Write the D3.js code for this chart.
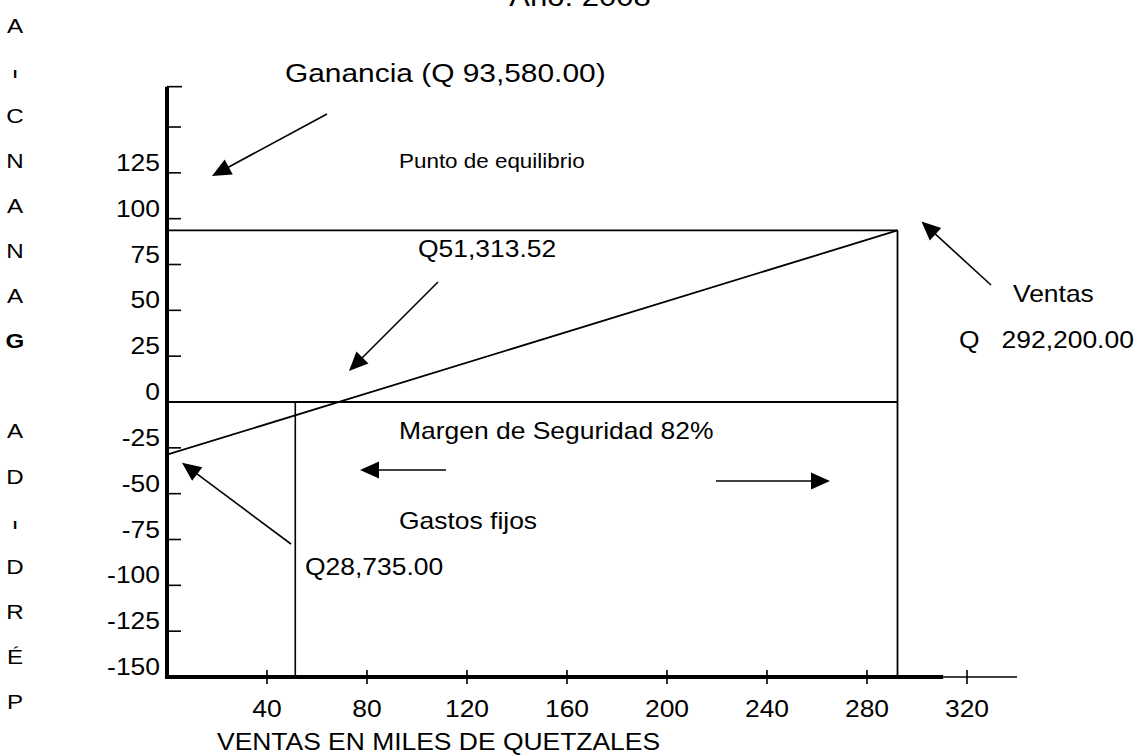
<!DOCTYPE html>
<html><head><meta charset="utf-8">
<script src="https://cdn.jsdelivr.net/npm/d3@7"></script>
<style>
body{margin:0;background:#fff}
svg{display:block}
text{font-family:"Liberation Sans",Arial,Helvetica,sans-serif;fill:#000;white-space:pre}
</style>
</head><body>
<svg id="c" width="1136" height="756"></svg>
<script>
// ---- data (values in thousands of quetzales) ----
const titleText = "Año: 2008";
const sideLetters = ["A","I","C","N","A","N","A","G","","A","D","I","D","R","É","P"];
const xTicks = [40, 80, 120, 160, 200, 240, 280, 320];
const yTicks = [150, 125, 100, 75, 50, 25, 0, -25, -50, -75, -100, -125];
const yLabels = [125, 100, 75, 50, 25, 0, -25, -50, -75, -100, -125, -150];
const salesX = [0, 292.2];            // ventas
const resultY = [-28.735, 93.58];     // gastos fijos -> ganancia
const breakEvenX = 51.31352;
const profitY = 93.58;
const labels = {
  ganancia: "Ganancia (Q 93,580.00)",
  punto: "Punto de equilibrio",
  pe: "Q51,313.52",
  margen: "Margen de Seguridad 82%",
  gastos: "Gastos fijos",
  gf: "Q28,735.00",
  ventas: "Ventas",
  ventasQ: "Q   292,200.00",
  xTitle: "VENTAS EN MILES DE QUETZALES"
};

// ---- drawing ----
const svg = d3.select("#c");
const SX = 1.15; // horizontal text stretch of the original
const x = d3.scaleLinear().domain([0, 320]).range([167, 967]);
const y = d3.scaleLinear().domain([-150, 0]).range([677, 402]);

function txt(str, px, py, size, anchor, weight, sy) {
  return svg.append("text")
    .attr("transform", `translate(${px},${py}) scale(${SX},${sy || 1})`)
    .attr("font-size", size)
    .attr("text-anchor", anchor || "start")
    .attr("font-weight", weight || "normal")
    .text(str);
}
function line(x1, y1, x2, y2, w) {
  svg.append("line").attr("x1", x1).attr("y1", y1).attr("x2", x2).attr("y2", y2)
    .attr("stroke", "#000").attr("stroke-width", w || 1.5);
}
function arrow(x1, y1, x2, y2) {
  const L = 19, H = 8.5;
  const a = Math.atan2(y2 - y1, x2 - x1);
  const bx = x2 - L * Math.cos(a), by = y2 - L * Math.sin(a);
  line(x1, y1, bx + 2 * Math.cos(a), by + 2 * Math.sin(a), 1.6);
  const px = -Math.sin(a), py = Math.cos(a);
  svg.append("path")
    .attr("d", `M${x2},${y2}L${bx + H * px},${by + H * py}L${bx - H * px},${by - H * py}Z`)
    .attr("fill", "#000");
}

// title (cut at the top in the original)
txt(titleText, 580, 6, 27, "middle");

// vertical side letters
sideLetters.forEach((c, i) => {
  if (!c) return;
  const cy = 25 + i * 45.1;
  txt(c, 15, cy + 7.5, 21, "middle", c === "G" ? "bold" : "normal", c === "I" ? 0.55 : 1);
});

// y axis
const yTop = y(172);
line(x(0), yTop, x(0), y(-150) + 2, 4);
line(x(0), yTop, x(0) + 15, yTop, 1.6);
yTicks.forEach(v => line(x(0), y(v), x(0) + 14, y(v), 1.6));
yLabels.forEach(v => txt(String(v), 160, y(v) - 2, 23, "end"));

// x axis
line(x(0) - 2, y(-150), x(310.5), y(-150), 4);
line(x(310.5), y(-150), x(340), y(-150), 1.6);
xTicks.forEach(v => line(x(v), y(-150) - 7, x(v), y(-150) + 7, 1.6));
xTicks.forEach(v => txt(String(v), x(v), 717, 23, "middle"));
txt(labels.xTitle, 217, 750, 23, "start");

// ganancia level & zero level
line(x(0), y(profitY), x(salesX[1]), y(profitY), 1.8);
line(x(0), y(0), x(salesX[1]), y(0), 1.8);
// result line (gastos fijos -> ganancia)
svg.append("path")
  .datum(salesX.map((s, i) => [s, resultY[i]]))
  .attr("d", d3.line().x(d => x(d[0])).y(d => y(d[1])))
  .attr("fill", "none").attr("stroke", "#000").attr("stroke-width", 1.8);
// verticals
line(x(breakEvenX), y(0), x(breakEvenX), y(-150), 1.6);
line(x(salesX[1]), y(profitY), x(salesX[1]), y(-150), 1.8);

// annotations
txt(labels.ganancia, 285, 82, 26, "start");
arrow(327, 114, 212, 176);
txt(labels.punto, 399, 168, 19.5, "start");
txt(labels.pe, 418, 257, 23, "start");
arrow(438, 282, 349, 371);
arrow(991, 285, x(salesX[1]) + 24, y(profitY) - 9);
txt(labels.ventas, 1013, 302, 23, "start");
txt(labels.ventasQ, 959, 348, 23, "start");
txt(labels.margen, 399, 439, 23, "start");
arrow(446, 470, 360, 470);
arrow(716, 481, 830, 481);
txt(labels.gastos, 399, 529, 23, "start");
arrow(291, 544, x(0) + 15, y(resultY[0]) + 8);
txt(labels.gf, 305, 575, 23, "start");
</script>
</body></html>
